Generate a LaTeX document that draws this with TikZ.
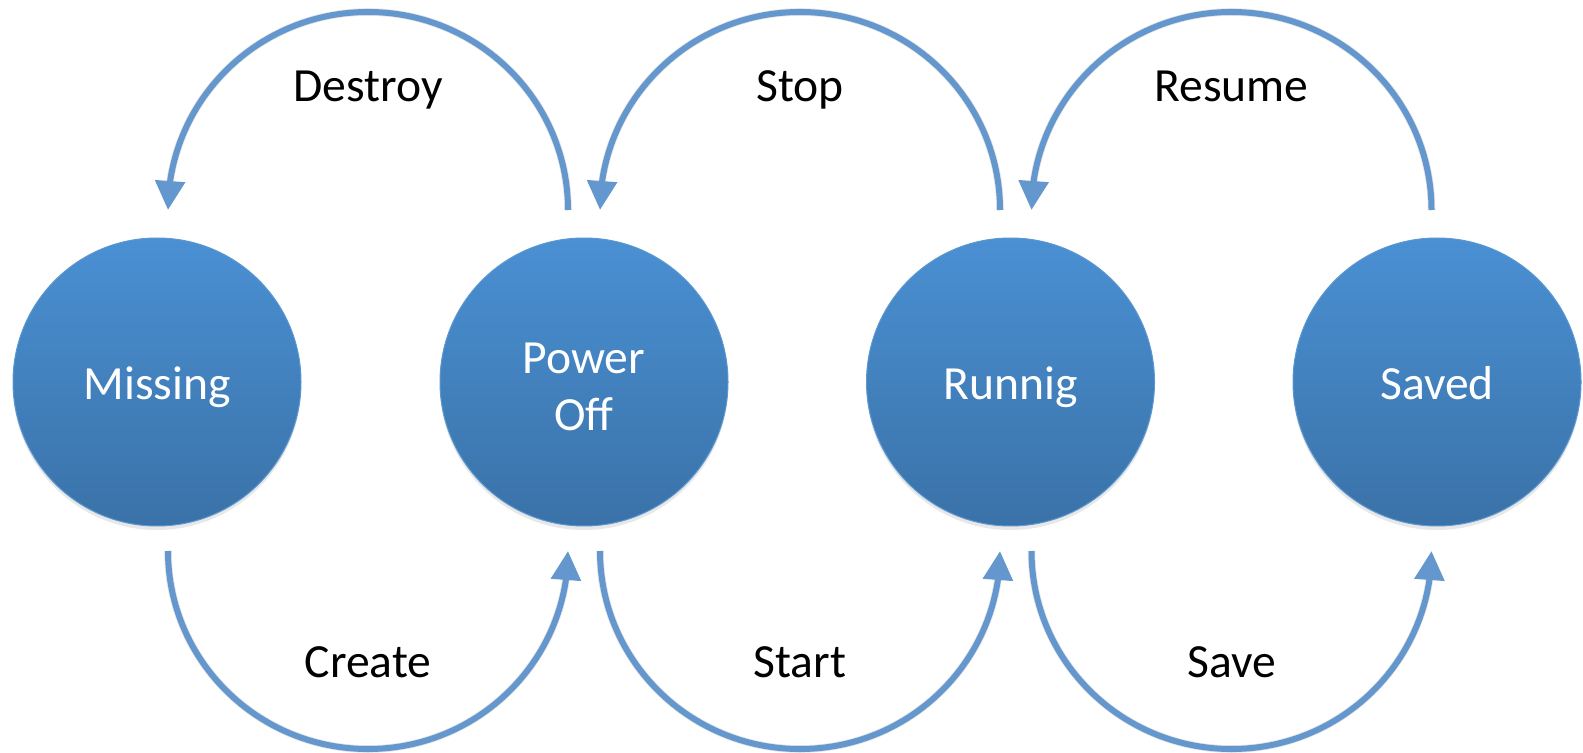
\documentclass[tikz,border=0pt]{standalone}
\usepackage{fontspec}
\setmainfont{Carlito}
\usetikzlibrary{arrows.meta,bending,shadows}
\definecolor{statetop}{HTML}{4A90D3}
\definecolor{statebot}{HTML}{3A72A8}
\definecolor{stateedge}{HTML}{5B97D0}
\definecolor{flowblue}{HTML}{6497CD}
\begin{document}
\begin{tikzpicture}[
  x=0.5pt, y=-0.5pt,
  txt/.style={font=\fontsize{23.8pt}{28.5pt}\selectfont},
  state/.style={circle, minimum size=144pt, inner sep=0pt, txt,
    top color=statetop, bottom color=statebot, draw=stateedge, line width=0.5pt,
    text=white,
    drop shadow={opacity=0.18, shadow xshift=0pt, shadow yshift=-2pt}},
  oneline/.style={text height=18pt, text depth=0pt},
  edgetext/.style={txt, anchor=base, inner sep=0pt, text=black},
  flowshade/.style={draw=black, opacity=0.10, line width=3.8pt},
  flow/.style={draw=flowblue, line width=3pt,
    -{Triangle[length=14.5pt,width=14.5pt]}}
]
\useasboundingbox (0,0) rectangle (1583,753);

% states
\node[state, oneline] (missing) at (157,382)  {Missing};
\node[state, align=center] (poweroff) at (584,382) {\strut Power\\Off};
\node[state, oneline] (running) at (1010.5,382) {Runnig};
\node[state, oneline] (saved) at (1437,382) {Saved};

% arc end points above and below the states
\coordinate (missing-n)  at (168,210);
\coordinate (poweroff-nw) at (568,210);
\coordinate (poweroff-ne) at (600,210);
\coordinate (running-nw) at (1000,210);
\coordinate (running-ne) at (1031.5,210);
\coordinate (saved-n)    at (1431.5,210);

\coordinate (missing-s)  at (168,551);
\coordinate (poweroff-sw) at (568,551);
\coordinate (poweroff-se) at (600,551);
\coordinate (running-sw) at (1000,551);
\coordinate (running-se) at (1031.5,551);
\coordinate (saved-s)    at (1431.5,551);

% faint shadow under the transition arcs
\begin{scope}[shift={(1.5,2.5)}]
  \foreach \s in {poweroff-nw, running-nw, saved-n}
    \draw[flowshade] (\s) arc[start angle=0, end angle=-176, x radius=200, y radius=198];
  \foreach \s in {missing-s, poweroff-se, running-se}
    \draw[flowshade] (\s) arc[start angle=180, end angle=4, x radius=200, y radius=198];
\end{scope}

% backward transitions (over the top)
\draw[flow] (poweroff-nw) arc[start angle=0, end angle=-180, x radius=200, y radius=198];
\draw[flow] (running-nw) arc[start angle=0, end angle=-180, x radius=200, y radius=198];
\draw[flow] (saved-n) arc[start angle=0, end angle=-180, x radius=200, y radius=198];

% forward transitions (underneath)
\draw[flow] (missing-s) arc[start angle=180, end angle=0, x radius=200, y radius=198];
\draw[flow] (poweroff-se) arc[start angle=180, end angle=0, x radius=200, y radius=198];
\draw[flow] (running-se) arc[start angle=180, end angle=0, x radius=200, y radius=198];

% transition labels
\node[edgetext] (destroy) at (368,102) {Destroy};
\node[edgetext] (stop)    at (800,102) {Stop};
\node[edgetext] (resume)  at (1231.5,102) {Resume};
\node[edgetext] (create)  at (368,677) {Create};
\node[edgetext] (start)   at (800,677) {Start};
\node[edgetext] (save)    at (1231.5,677) {Save};
\end{tikzpicture}
\end{document}
